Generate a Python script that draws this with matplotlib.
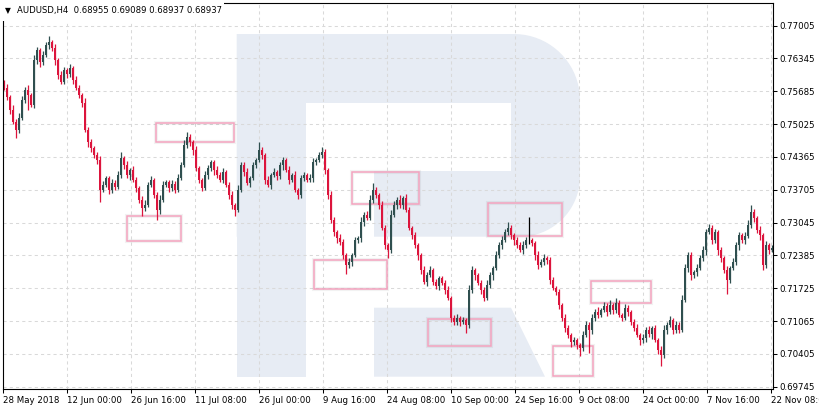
import numpy as np
import matplotlib
matplotlib.use("Agg")
import matplotlib.pyplot as plt
from matplotlib.patches import Rectangle, Polygon
from matplotlib.transforms import Affine2D

# ---------------- data ----------------
first_open = 0.7585
closes = [
    0.7575, 0.7557, 0.7531, 0.7507, 0.7491, 0.7515, 0.7551, 0.7571, 0.7561, 0.7541,
    0.7631, 0.7651, 0.7627, 0.7641, 0.7661, 0.7667, 0.7655,
    0.7631, 0.7601, 0.7587, 0.7611, 0.7603, 0.7615, 0.7591, 0.7575, 0.7561, 0.7545,
    0.7491, 0.7466, 0.7454, 0.7440, 0.7430,
    0.7370, 0.7380, 0.7394, 0.7370, 0.7384, 0.7376, 0.7400,
    0.7434, 0.7420, 0.7400, 0.7410, 0.7390, 0.7374, 0.7350, 0.7334,
    0.7340, 0.7380, 0.7390, 0.7360, 0.7330, 0.7350,
    0.7380, 0.7386, 0.7374, 0.7382, 0.7370, 0.7394, 0.7420,
    0.7460, 0.7476, 0.7466, 0.7450, 0.7414, 0.7390, 0.7374,
    0.7400, 0.7414, 0.7426, 0.7410, 0.7400, 0.7390, 0.7406,
    0.7380, 0.7360, 0.7340, 0.7330,
    0.7370, 0.7420, 0.7406, 0.7384, 0.7394, 0.7420, 0.7430, 0.7450, 0.7440,
    0.7390, 0.7380, 0.7400, 0.7406, 0.7398, 0.7420, 0.7430, 0.7410, 0.7390, 0.7400, 0.7370, 0.7360,
    0.7394, 0.7400, 0.7390, 0.7394, 0.7426, 0.7430, 0.7440, 0.7446,
    0.7410, 0.7360, 0.7310, 0.7285, 0.7273, 0.7265, 0.7239, 0.7219,
    0.7225, 0.7239, 0.7269, 0.7273, 0.7306, 0.7320, 0.7314, 0.7350, 0.7370,
    0.7360, 0.7340, 0.7294, 0.7259, 0.7249,
    0.7320, 0.7340, 0.7350, 0.7340, 0.7354, 0.7330, 0.7294, 0.7279, 0.7259, 0.7239,
    0.7209, 0.7185, 0.7199, 0.7209, 0.7185, 0.7177, 0.7193, 0.7183, 0.7169, 0.7153,
    0.7113, 0.7105, 0.7113, 0.7105, 0.7109, 0.7099,
    0.7169, 0.7209, 0.7199, 0.7183, 0.7169, 0.7153, 0.7179, 0.7199, 0.7213,
    0.7239, 0.7259, 0.7269, 0.7285, 0.7294,
    0.7279, 0.7269, 0.7259, 0.7249, 0.7259, 0.7269, 0.7269, 0.7263,
    0.7239, 0.7219, 0.7225, 0.7233, 0.7229, 0.7189, 0.7173, 0.7165,
    0.7139, 0.7113, 0.7093, 0.7078, 0.7064, 0.7068, 0.7058, 0.7052,
    0.7078, 0.7099, 0.7089, 0.7113, 0.7125, 0.7119, 0.7129,
    0.7137, 0.7125, 0.7139, 0.7129, 0.7143, 0.7119, 0.7113, 0.7133, 0.7125,
    0.7105, 0.7093, 0.7078, 0.7068, 0.7072, 0.7089, 0.7080, 0.7093, 0.7068, 0.7048, 0.7038,
    0.7089, 0.7099, 0.7109, 0.7089, 0.7099, 0.7089,
    0.7149, 0.7213, 0.7239, 0.7199, 0.7205, 0.7213, 0.7233, 0.7249, 0.7285, 0.7294,
    0.7269, 0.7285, 0.7249, 0.7233, 0.7209, 0.7189,
    0.7213, 0.7225, 0.7259, 0.7279, 0.7269, 0.7277, 0.7300, 0.7326,
    0.7314, 0.7290, 0.7279, 0.7219, 0.7259, 0.7249, 0.7253,
]
# upper / lower wick lengths in pips
wick_up = [
    6, 8, 4, 9, 5, 10, 7, 5, 9, 4,
    10, 7, 5, 9, 6, 12, 5, 8, 4, 9,
    7, 5, 9, 4, 8, 6, 4, 10, 5, 7,
    4, 6, 9, 7, 5, 4, 8, 5, 9, 12,
    5, 8, 4, 9, 6, 4, 7, 10, 5, 8,
    4, 6, 9, 7, 4, 5, 8, 6, 9, 7,
    10, 10, 6, 4, 8, 5, 4, 9, 7, 5,
    4, 8, 6, 9, 4, 5, 7, 4, 10, 7,
    6, 9, 4, 7, 5, 16, 6, 4, 8, 5,
    9, 4, 7, 6, 4, 8, 5, 9, 4, 7,
    6, 4, 8, 9, 5, 7, 10, 6, 4, 8,
    5, 4, 8, 6, 4, 9, 5, 7, 4, 9,
    6, 8, 9, 14, 5, 4, 7, 6, 4, 10,
    7, 5, 9, 4, 8, 6, 4, 7, 5, 4,
    8, 6, 9, 4, 7, 5, 4, 6, 8, 4,
    6, 7, 4, 6, 4, 9, 8, 5, 4, 7,
    6, 9, 7, 5, 8, 6, 9, 7, 12, 5,
    4, 7, 6, 9, 7, 46, 5, 4, 8, 6,
    9, 4, 6, 7, 4, 5, 4, 8, 6, 4,
    7, 5, 4, 9, 8, 6, 7, 5, 9, 4,
    8, 6, 9, 4, 10, 5, 4, 8, 6, 4,
    6, 8, 4, 9, 6, 7, 4, 6, 4, 8,
    9, 6, 8, 4, 7, 5, 10, 9, 7, 6,
    4, 8, 6, 9, 7, 8, 5, 7, 4, 6,
    4, 8, 5, 9, 7, 6, 4, 8, 9, 14,
    6, 4, 8, 5, 9, 4, 6,
]
wick_dn = [
    4, 6, 8, 5, 16, 6, 4, 7, 30, 5,
    6, 8, 9, 5, 4, 7, 6, 9, 7, 5,
    4, 8, 6, 9, 5, 7, 9, 5, 10, 7,
    6, 8, 24, 5, 4, 9, 6, 7, 4, 6,
    7, 5, 9, 4, 8, 6, 16, 7, 5, 4,
    6, 20, 8, 5, 4, 9, 6, 7, 4, 5,
    4, 6, 8, 9, 5, 7, 6, 4, 8, 5,
    9, 6, 4, 7, 5, 9, 8, 12, 5, 4,
    8, 5, 9, 4, 6, 4, 7, 9, 5, 8,
    4, 7, 6, 9, 4, 8, 5, 4, 9, 6,
    7, 5, 4, 8, 6, 4, 5, 8, 9, 6,
    7, 9, 5, 8, 18, 6, 7, 4, 6, 8,
    9, 5, 4, 6, 7, 9, 5, 8, 16, 6,
    4, 8, 6, 9, 4, 5, 8, 6, 9, 7,
    5, 9, 4, 7, 6, 9, 4, 8, 5, 9,
    7, 6, 9, 4, 16, 6, 7, 9, 5, 8,
    7, 4, 6, 9, 4, 5, 8, 4, 6, 7,
    9, 5, 4, 8, 6, 7, 5, 9, 7, 4,
    6, 8, 9, 5, 7, 9, 6, 8, 5, 9,
    6, 7, 16, 5, 4, 46, 8, 6, 7, 4,
    5, 8, 4, 9, 6, 4, 7, 5, 9, 6,
    7, 4, 9, 6, 8, 5, 9, 4, 7, 22,
    5, 8, 4, 9, 6, 7, 5, 4, 8, 9,
    6, 7, 4, 6, 9, 4, 8, 5, 9, 7,
    5, 28, 7, 4, 6, 9, 5, 8, 4, 6,
    8, 6, 9, 10, 5, 7, 4,
]
ytick_labels = [0.69745, 0.70405, 0.71065, 0.71725, 0.72385, 0.73045,
                0.73705, 0.74365, 0.75025, 0.75685, 0.76345, 0.77005]
xtick_labels = ['28 May 2018', '12 Jun 00:00', '26 Jun 16:00', '11 Jul 08:00',
                '26 Jul 00:00', '9 Aug 16:00', '24 Aug 08:00', '10 Sep 00:00',
                '24 Sep 16:00', '9 Oct 08:00', '24 Oct 00:00', '7 Nov 16:00',
                '22 Nov 08:00']
# drawn boxes: (bar start, bar end, top price, bottom price)
box_x0 = [50.7, 41.1, 116.1, 103.5, 141.5, 161.5, 183.1, 195.7]
box_x1 = [76.6, 58.9, 138.3, 127.8, 162.3, 186.0, 196.5, 215.6]
box_top = [0.75040, 0.73170, 0.74055, 0.72286, 0.71100, 0.73432, 0.70563, 0.71870]
box_bot = [0.74658, 0.72674, 0.73412, 0.71703, 0.70557, 0.72768, 0.69954, 0.71422]
title = "AUDUSD,H4  0.68955 0.69089 0.68937 0.68937"

# ---------------- figure ----------------
W, H = 819, 411
fig = plt.figure(figsize=(W / 100, H / 100), dpi=100)
L, R, T, B = 2.7, 772.7, 2.7, 389.3
ax = fig.add_axes([L / W, (H - B) / H, (R - L) / W, (B - T) / H])

BULL, BEAR, DOJI = '#2f4f4f', '#dc143c', '#000000'
WM = '#e7ecf4'

closes = np.array(closes)
opens = np.concatenate([[first_open], closes[:-1]])
up = np.array(wick_up) * 1e-4
dn = np.array(wick_dn) * 1e-4
highs = np.maximum(opens, closes) + up
lows = np.minimum(opens, closes) - dn
idx = np.arange(len(closes))
cols = np.where(closes > opens, BULL, np.where(closes < opens, BEAR, DOJI))

ax.vlines(idx, lows, highs, colors=cols, linewidth=0.9, zorder=3)
body_b = np.minimum(opens, closes)
body_h = np.maximum(np.abs(closes - opens), 0.00005)
ax.bar(idx, body_h, bottom=body_b, width=0.8, color=cols, linewidth=0, zorder=3)

# boxes
for x0, x1, t, b in zip(box_x0, box_x1, box_top, box_bot):
    ax.add_patch(Rectangle((x0, b), x1 - x0, t - b, fill=False, ec='#000000',
                           lw=3.0, alpha=0.05, zorder=2))
    ax.add_patch(Rectangle((x0, b), x1 - x0, t - b, fill=False, ec='#f4a3bf',
                           lw=1.1, zorder=2.1))

# watermark "R" in pixel coordinates (y downwards)
pix = Affine2D().scale(1, -1).translate(0, H)

def rounded_bowl(x0, y0, x1, y1, rt, rb):
    pts = [(x0, y0), (x1 - rt, y0)]
    for a in np.linspace(-np.pi / 2, 0, 20):
        pts.append((x1 - rt + rt * np.cos(a), y0 + rt + rt * np.sin(a)))
    for a in np.linspace(0, np.pi / 2, 20):
        pts.append((x1 - rb + rb * np.cos(a), y1 - rb + rb * np.sin(a)))
    pts.append((x0, y1))
    return pts

ax.add_patch(Polygon(rounded_bowl(236.7, 34, 580, 236.7, 66, 60), closed=True,
                     fc=WM, ec='none', transform=pix, zorder=0.1))
ax.add_patch(Polygon([(236.7, 34), (306, 34), (306, 376.7), (236.7, 376.7)],
                     closed=True, fc=WM, ec='none', transform=pix, zorder=0.1))
ax.add_patch(Polygon([(374, 307.7), (511, 307.7), (545, 376.7), (374, 376.7)],
                     closed=True, fc=WM, ec='none', transform=pix, zorder=0.1))
ax.add_patch(Polygon([(306, 102.7), (511, 102.7), (511, 170.7), (306, 170.7)],
                     closed=True, fc='white', ec='none', transform=pix, zorder=0.2))
ax.add_patch(Polygon([(306, 170.7), (374, 170.7), (374, 236.7), (306, 236.7)],
                     closed=True, fc='white', ec='none', transform=pix, zorder=0.2))

# axes scales
x0 = -0.4
ax.set_xlim(x0, x0 + (R - L) / 3.0)
p_per_px = 0.000201
ax.set_ylim(0.77518 - p_per_px * B, 0.77518 - p_per_px * T)

step = 64 / 3.0
ax.set_xticks([x0 + step * k for k in range(len(xtick_labels))])
ax.set_xticklabels(xtick_labels)
for lbl in ax.get_xticklabels():
    lbl.set_ha('left')
ax.yaxis.tick_right()
ax.set_yticks(ytick_labels)
ax.set_yticklabels([f"{v:.5f}" for v in ytick_labels])

ax.tick_params(axis='both', direction='out', length=3, width=0.75,
               colors='black', labelsize=6.2, pad=2)
ax.set_axisbelow(True)
ax.grid(True, color='#d9d9d9', linestyle=(0, (3, 3)), linewidth=0.75, zorder=0.5)
for s in ax.spines.values():
    s.set_color('black')
    s.set_linewidth(0.8)
    s.set_zorder(4)

# title
fig.patches.append(Rectangle((0, H - 21), 224, 21, transform=None,
                             fc='white', ec='none', zorder=5))
fig.text(5 / W, 1 - 10.5 / H, '▼', fontsize=5.5, va='center', ha='left', zorder=6)
fig.text(17 / W, 1 - 10.5 / H, title, fontsize=6.1, va='center', ha='left', zorder=6)

fig.savefig('out.png', dpi=100, facecolor='white')
